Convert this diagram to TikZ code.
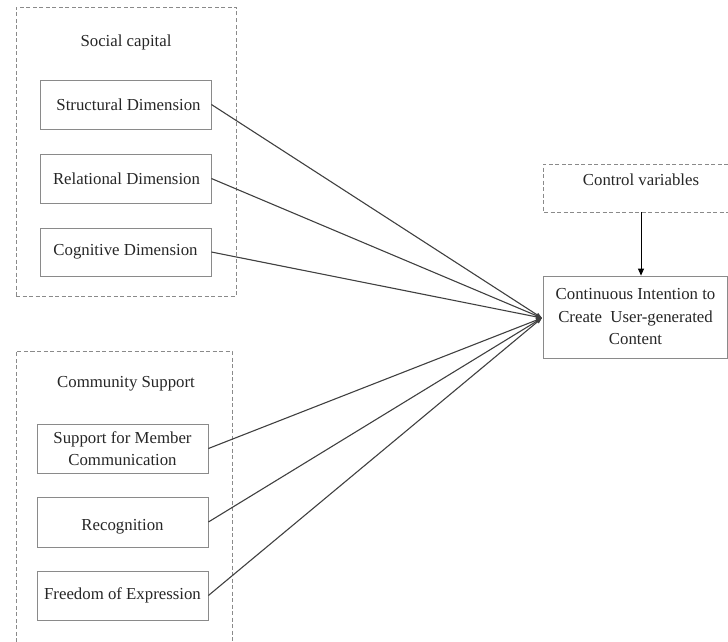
\documentclass[tikz,border=0pt]{standalone}
\usepackage{fontspec}
\setmainfont{Liberation Serif}
\usetikzlibrary{arrows.meta}
\definecolor{boxgray}{HTML}{8A8A8A}
\definecolor{linegray}{HTML}{404040}
\begin{document}
\begin{tikzpicture}[x=1pt,y=-1pt,
  every node/.style={font=\fontsize{16.8}{22.5}\selectfont, text=black!85},
  varbox/.style={draw=boxgray, line width=0.8pt, rectangle, inner sep=0pt, align=center},
  groupbox/.style={draw=boxgray, line width=0.8pt, dashed, dash pattern=on 4pt off 2.5pt},
  conn/.style={draw=linegray, line width=1.1pt, -{Triangle[length=6pt,width=4pt]}},
  label/.style={inner sep=0pt}]
\useasboundingbox (0,0) rectangle (728,642);
% group boxes
\node[groupbox, minimum width=220pt, minimum height=289pt, inner sep=0pt] (scgroup) at (126,151.5) {};
\draw[groupbox] (16,642) -- (16,351) -- (232,351) -- (232,642);
\node[label] (sctitle) at (126,42) {Social capital};
\node[label] (cstitle) at (126,384) {Community Support};
% social capital variables
\node[varbox, minimum width=171pt, minimum height=49pt] (struct) at (125.5,104.5) {\hspace*{6pt}Structural Dimension};
\node[varbox, minimum width=171pt, minimum height=49pt] (rel) at (125.5,178.5) {\hspace*{2pt}Relational Dimension};
\node[varbox, minimum width=171pt, minimum height=48pt] (cog) at (125.5,252) {Cognitive Dimension};
% community support variables
\node[varbox, minimum width=171pt, minimum height=49pt] (smc) at (122.5,448.5) {Support for Member\\Communication};
\node[varbox, minimum width=171pt, minimum height=50pt] (recog) at (122.5,522) {};
\node[label] (recogtext) at (122.5,527) {Recognition};
\node[varbox, minimum width=171pt, minimum height=49pt] (free) at (122.5,595.5) {Freedom of Expression};
% control and outcome
\draw[groupbox] (728,164) -- (543,164) -- (543,212) -- (728,212);
\node[label] (ctrl) at (641,180) {Control variables};
\coordinate (ctrlb) at (641,212);
\node[varbox, minimum width=184pt, minimum height=82pt] (cic) at (635.5,317) {Continuous Intention to\\Create~~User-generated\\Content};
\coordinate (conv) at (542,318);
% connectors
\foreach \n in {struct,rel,cog,smc,recog,free}
  \draw[conn] (\n.east) -- (conv);
\draw[draw=black, line width=0.8pt, -{Triangle[length=7pt,width=6pt]}] (ctrlb) -- (cic.north -| ctrlb);
\end{tikzpicture}
\end{document}
